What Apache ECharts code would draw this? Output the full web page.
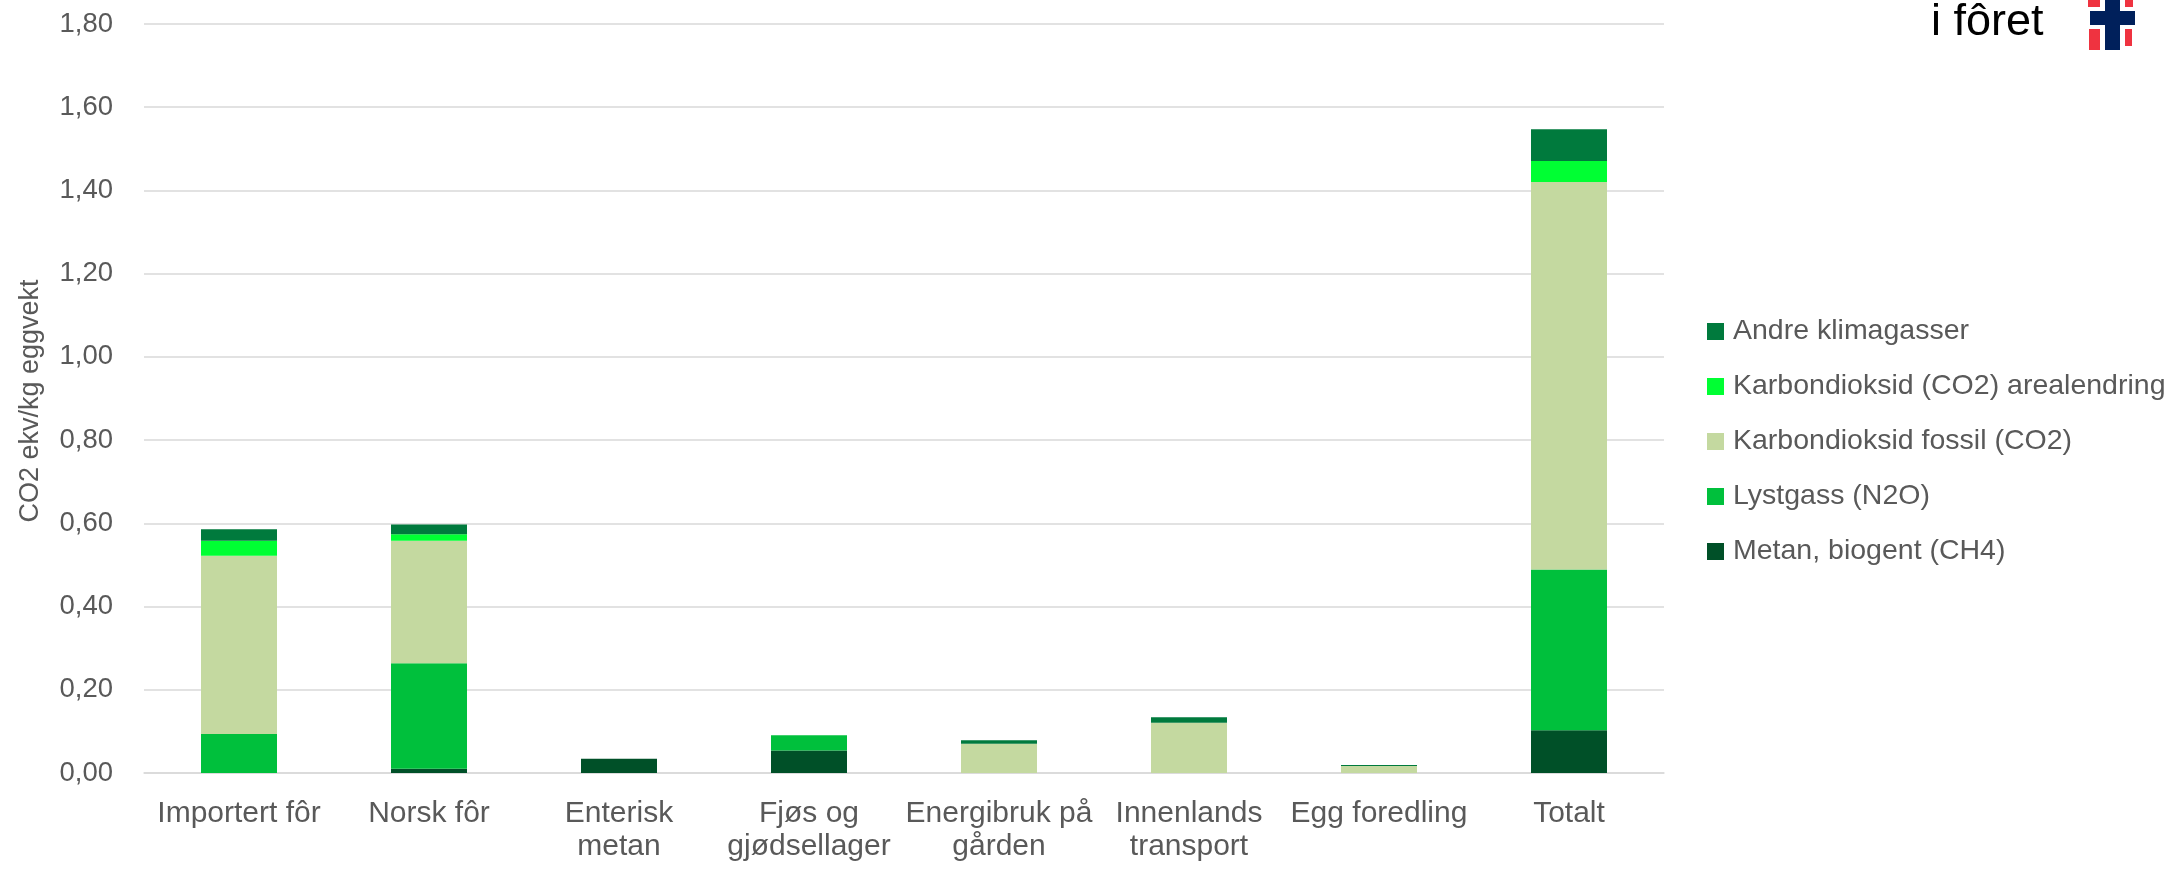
<!DOCTYPE html>
<html>
<head>
<meta charset="utf-8">
<script src="https://cdn.jsdelivr.net/npm/echarts@6/dist/echarts.min.js"></script>
<style>
  html, body { margin: 0; padding: 0; background: #fff; }
  #chart { width: 2178px; height: 869px; }
</style>
</head>
<body>
<div id="chart"></div>
<script>
// kategorier langs x-aksen
const categories = ['Importert fôr', 'Norsk fôr', 'Enterisk\nmetan', 'Fjøs og\ngjødsellager',
  'Energibruk på\ngården', 'Innenlands\ntransport', 'Egg foredling', 'Totalt'];

// verdier i kg CO2 ekv per kg eggvekt (lest av bildet)
const metan = [0, 0.010, 0.034, 0.054, 0, 0, 0, 0.103];
const lystgass = [0.094, 0.254, 0, 0.037, 0, 0, 0, 0.386];
const fossil = [0.428, 0.294, 0, 0, 0.070, 0.121, 0.017, 0.931];
const arealendring = [0.036, 0.016, 0, 0, 0, 0, 0, 0.051];
const andre = [0.028, 0.023, 0, 0, 0.009, 0.013, 0.002, 0.076];

const yTicks = { min: 0, max: 1.8, interval: 0.2 };

const chart = echarts.init(document.getElementById('chart'));

const font = '"Liberation Sans", Arial, sans-serif';
const grey = '#595959';

function bar(name, data, color) {
  return {
    name: name,
    type: 'bar',
    stack: 'total',
    barWidth: 76,
    itemStyle: { color: color },
    data: data
  };
}

const option = {
  backgroundColor: '#fff',
  animation: false,
  grid: { left: 144, right: 514, top: 24, bottom: 96 },
  legend: {
    orient: 'vertical',
    left: 1702,
    top: 312,
    itemWidth: 17,
    itemHeight: 17,
    itemGap: 26,
    icon: 'rect',
    data: ['Andre klimagasser', 'Karbondioksid (CO2) arealendring', 'Karbondioksid fossil (CO2)',
      'Lystgass (N2O)', 'Metan, biogent (CH4)'],
    textStyle: { fontFamily: font, fontSize: 28.5, lineHeight: 28, color: grey, padding: [0, 0, 0, 4] }
  },
  xAxis: {
    type: 'category',
    data: categories,
    axisTick: { show: false },
    axisLine: { lineStyle: { color: '#D9D9D9', width: 1.5 } },
    axisLabel: { interval: 0, margin: 24, fontFamily: font, fontSize: 30, lineHeight: 33, color: grey }
  },
  yAxis: {
    type: 'value',
    min: yTicks.min,
    max: yTicks.max,
    interval: yTicks.interval,
    axisLine: { show: false },
    axisTick: { show: false },
    splitLine: { lineStyle: { color: '#D9D9D9', width: 1.5 } },
    axisLabel: {
      margin: 31,
      fontFamily: font,
      fontSize: 27.5,
      color: grey,
      formatter: v => v.toFixed(2).replace('.', ',')
    }
  },
  series: [
    bar('Metan, biogent (CH4)', metan, '#005028'),
    bar('Lystgass (N2O)', lystgass, '#00C03C'),
    bar('Karbondioksid fossil (CO2)', fossil, '#C4D9A0'),
    bar('Karbondioksid (CO2) arealendring', arealendring, '#00FF33'),
    bar('Andre klimagasser', andre, '#007A3D')
  ],
  graphic: [
    {
      type: 'text',
      x: 31, y: 401,
      rotation: Math.PI / 2,
      style: {
        text: 'CO2 ekv/kg eggvekt',
        font: '27px "Liberation Sans", Arial, sans-serif',
        fill: grey,
        align: 'center',
        verticalAlign: 'middle'
      }
    },
    {
      type: 'text',
      x: 1931, y: 23,
      style: {
        text: 'i fôret',
        font: '45px "Liberation Sans", Arial, sans-serif',
        fill: '#000',
        align: 'left',
        verticalAlign: 'middle'
      }
    },
    // lite flaggmerke
    { type: 'rect', shape: { x: 2088, y: 0, width: 12, height: 7 }, style: { fill: '#EF3340' } },
    { type: 'rect', shape: { x: 2125, y: 0, width: 8, height: 7 }, style: { fill: '#EF3340' } },
    { type: 'rect', shape: { x: 2089, y: 29, width: 11, height: 21 }, style: { fill: '#EF3340' } },
    { type: 'rect', shape: { x: 2125, y: 29, width: 7, height: 17 }, style: { fill: '#EF3340' } },
    { type: 'rect', shape: { x: 2105, y: 0, width: 15, height: 50 }, style: { fill: '#00205B' } },
    { type: 'rect', shape: { x: 2090, y: 11, width: 45, height: 14 }, style: { fill: '#00205B' } }
  ]
};

chart.setOption(option);
</script>
</body>
</html>
